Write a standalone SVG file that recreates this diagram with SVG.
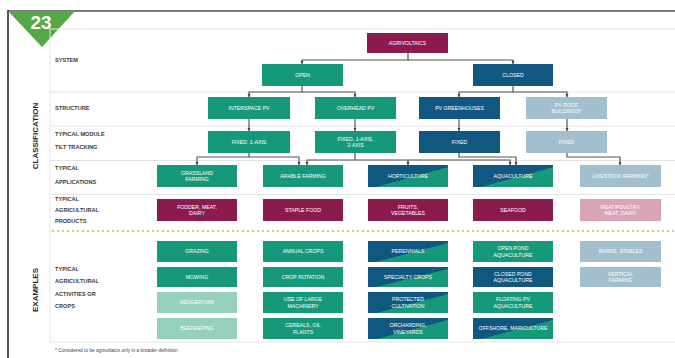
<svg xmlns="http://www.w3.org/2000/svg" width="675" height="358" viewBox="0 0 675 358">
<defs>
<style>
.bx{stroke:none}
.g{fill:#16997a}
.b{fill:#10587f}
.m{fill:#8b1b4e}
.lb{fill:#a3bfcd}
.lg{fill:#95d0bb}
.lp{fill:#d9a3b8}
.sp{fill:url(#split)}
.t{font-family:"Liberation Sans",Arial,sans-serif;font-size:5.2px;fill:#ffffff;text-anchor:middle}
.lbl{font-family:"Liberation Sans",Arial,sans-serif;font-size:5.6px;font-weight:bold;fill:#3a3a3a}
.sec{font-family:"Liberation Sans",Arial,sans-serif;font-size:8px;font-weight:bold;fill:#2a2a2a;text-anchor:middle}
.sep{stroke:#e4e4e4;stroke-width:1;fill:none}
.c{stroke:#555;stroke-width:1.2;fill:none;marker-end:url(#ah)}
</style>
<linearGradient id="split" x1="0" y1="0" x2="1" y2="1">
<stop offset="0" stop-color="#10587f"/>
<stop offset="0.55" stop-color="#10587f"/>
<stop offset="0.55" stop-color="#16997a"/>
<stop offset="1" stop-color="#16997a"/>
</linearGradient>
<marker id="ah" viewBox="0 0 4 4" refX="4" refY="2" markerWidth="3.5" markerHeight="3.5" markerUnits="userSpaceOnUse" orient="auto">
<path d="M0,0 L4,2 L0,4 z" fill="#444"/>
</marker>
</defs>
<rect x="0" y="0" width="675" height="358" fill="#ffffff"/>
<line x1="8" y1="11" x2="675" y2="11" stroke="#7a7a7a" stroke-width="2"/>
<line x1="8" y1="10" x2="8" y2="358" stroke="#222" stroke-width="1.5"/>
<g id="badge">
<polygon points="8,11 75,11 42,47" fill="#55a847"/>
<text x="41" y="29" font-family="Liberation Sans,Arial,sans-serif" font-size="19" font-weight="bold" fill="#fff" text-anchor="middle">23</text>
</g>
<g id="panel">
<line class="sep" x1="50" y1="29" x2="675" y2="29"/>
<line class="sep" x1="50" y1="92" x2="675" y2="92"/>
<line class="sep" x1="50" y1="126" x2="675" y2="126"/>
<line class="sep" x1="50" y1="160.5" x2="675" y2="160.5"/>
<line class="sep" x1="50" y1="194.5" x2="675" y2="194.5"/>
<line class="sep" x1="50" y1="29" x2="50" y2="342"/>
<line class="sep" x1="50" y1="342" x2="675" y2="342"/>
<line x1="52" y1="231" x2="675" y2="231" stroke="#c9b46a" stroke-width="1.3" stroke-dasharray="2,3"/>
</g>
<text class="sec" transform="translate(38,136) rotate(-90)">CLASSIFICATION</text>
<text class="sec" transform="translate(38,290) rotate(-90)">EXAMPLES</text>
<g id="rowlabels">
<text class="lbl" x="55" y="62">SYSTEM</text>
<text class="lbl" x="55" y="110">STRUCTURE</text>
<text class="lbl" x="55" y="136">TYPICAL MODULE</text>
<text class="lbl" x="55" y="149">TILT TRACKING</text>
<text class="lbl" x="55" y="170">TYPICAL</text>
<text class="lbl" x="55" y="184">APPLICATIONS</text>
<text class="lbl" x="55" y="201">TYPICAL</text>
<text class="lbl" x="55" y="212">AGRICULTURAL</text>
<text class="lbl" x="55" y="223">PRODUCTS</text>
<text class="lbl" x="55" y="271">TYPICAL</text>
<text class="lbl" x="55" y="283">AGRICULTURAL</text>
<text class="lbl" x="55" y="296">ACTIVITIES OR</text>
<text class="lbl" x="55" y="308">CROPS</text>
</g>
<g id="connectors">
<path class="c" d="M408,53 V60 H302 V64"/>
<path class="c" d="M408,60 H513 V64"/>
<path class="c" d="M302,86 V92 H249 V97"/>
<path class="c" d="M302,92 H355 V97"/>
<path class="c" d="M513,86 V92 H459 V97"/>
<path class="c" d="M513,92 H567 V97"/>
<path class="c" d="M249,119 V131"/>
<path class="c" d="M355,119 V131"/>
<path class="c" d="M459,119 V131"/>
<path class="c" d="M567,119 V131"/>
<path class="c" d="M249,153 V157 H197 V165"/>
<path class="c" d="M249,157 H299 V165"/>
<path class="c" d="M355,153 V160 H307 V165"/>
<path class="c" d="M355,160 H408 V165"/>
<path class="c" d="M408,160 H510 V165"/>
<path class="c" d="M459,153 V157 H516 V165"/>
<path class="c" d="M567,153 V157 H620 V165"/>
</g>
<g id="n-agrivoltaics"><rect class="bx m" x="367" y="33" width="81" height="20"/><text class="t" x="407.5" y="44.8">AGRIVOLTAICS</text></g>
<g id="n-open"><rect class="bx g" x="262" y="64" width="81" height="22"/><text class="t" x="302.5" y="76.8">OPEN</text></g>
<g id="n-closed"><rect class="bx b" x="473" y="64" width="80" height="22"/><text class="t" x="513" y="76.8">CLOSED</text></g>
<g id="n-interspace"><rect class="bx g" x="208" y="97" width="82" height="22"/><text class="t" x="249" y="109.8">INTERSPACE PV</text></g>
<g id="n-overhead"><rect class="bx g" x="315" y="97" width="81" height="22"/><text class="t" x="355.5" y="109.8">OVERHEAD PV</text></g>
<g id="n-greenhouses"><rect class="bx b" x="419" y="97" width="81" height="22"/><text class="t" x="459.5" y="109.8">PV GREENHOUSES</text></g>
<g id="n-buildings"><rect class="bx lb" x="526" y="97" width="81" height="22"/><text class="t" x="566.5" y="106.5">PV ROOF<tspan x="566.5" dy="6.5">BUILDINGS*</tspan></text></g>
<g id="n-track1"><rect class="bx g" x="208" y="131" width="82" height="22"/><text class="t" x="249" y="143.8">FIXED, 1-AXIS</text></g>
<g id="n-track2"><rect class="bx g" x="315" y="131" width="81" height="22"/><text class="t" x="355.5" y="140.5">FIXED, 1-AXIS,<tspan x="355.5" dy="6.5">2-AXIS</tspan></text></g>
<g id="n-track3"><rect class="bx b" x="419" y="131" width="81" height="22"/><text class="t" x="459.5" y="143.8">FIXED</text></g>
<g id="n-track4"><rect class="bx lb" x="526" y="131" width="81" height="22"/><text class="t" x="566.5" y="143.8">FIXED</text></g>
<g id="n-grassland"><rect class="bx g" x="157" y="165" width="80" height="22"/><text class="t" x="197" y="174.5">GRASSLAND<tspan x="197" dy="6.5">FARMING</tspan></text></g>
<g id="n-arable"><rect class="bx g" x="263" y="165" width="80" height="22"/><text class="t" x="303" y="177.8">ARABLE FARMING</text></g>
<g id="n-horticulture"><rect class="bx sp" x="368" y="165" width="80" height="22"/><text class="t" x="408" y="177.8">HORTICULTURE</text></g>
<g id="n-aquaculture"><rect class="bx sp" x="473" y="165" width="80" height="22"/><text class="t" x="513" y="177.8">AQUACULTURE</text></g>
<g id="n-livestock"><rect class="bx lb" x="580" y="165" width="81" height="22"/><text class="t" x="620.5" y="177.8">LIVESTOCK FARMING*</text></g>
<g id="n-fodder"><rect class="bx m" x="157" y="199" width="80" height="22"/><text class="t" x="197" y="208.5">FODDER, MEAT,<tspan x="197" dy="6.5">DAIRY</tspan></text></g>
<g id="n-staple"><rect class="bx m" x="263" y="199" width="80" height="22"/><text class="t" x="303" y="211.8">STAPLE FOOD</text></g>
<g id="n-fruits"><rect class="bx m" x="368" y="199" width="80" height="22"/><text class="t" x="408" y="208.5">FRUITS,<tspan x="408" dy="6.5">VEGETABLES</tspan></text></g>
<g id="n-seafood"><rect class="bx m" x="473" y="199" width="80" height="22"/><text class="t" x="513" y="211.8">SEAFOOD</text></g>
<g id="n-meat"><rect class="bx lp" x="580" y="199" width="81" height="22"/><text class="t" x="620.5" y="208.5">MEAT/POULTRY,<tspan x="620.5" dy="6.5">MEAT, DAIRY</tspan></text></g>
<g id="n-grazing"><rect class="bx g" x="157" y="241" width="80" height="21"/><text class="t" x="197" y="253.3">GRAZING</text></g>
<g id="n-mowing"><rect class="bx g" x="157" y="267" width="80" height="20"/><text class="t" x="197" y="278.8">MOWING</text></g>
<g id="n-hedgerows"><rect class="bx lg" x="157" y="292" width="80" height="21"/><text class="t" x="197" y="304.3">HEDGEROWS</text></g>
<g id="n-beekeeping"><rect class="bx lg" x="157" y="318" width="80" height="21"/><text class="t" x="197" y="330.3">BEEKEEPING</text></g>
<g id="n-annual"><rect class="bx g" x="263" y="241" width="80" height="21"/><text class="t" x="303" y="253.3">ANNUAL CROPS</text></g>
<g id="n-rotation"><rect class="bx g" x="263" y="267" width="80" height="20"/><text class="t" x="303" y="278.8">CROP ROTATION</text></g>
<g id="n-machinery"><rect class="bx g" x="263" y="292" width="80" height="21"/><text class="t" x="303" y="301">USE OF LARGE<tspan x="303" dy="6.5">MACHINERY</tspan></text></g>
<g id="n-cereals"><rect class="bx g" x="263" y="318" width="80" height="21"/><text class="t" x="303" y="327">CEREALS, OIL<tspan x="303" dy="6.5">PLANTS</tspan></text></g>
<g id="n-perennials"><rect class="bx sp" x="368" y="241" width="80" height="21"/><text class="t" x="408" y="253.3">PERENNIALS</text></g>
<g id="n-specialty"><rect class="bx sp" x="368" y="267" width="80" height="20"/><text class="t" x="408" y="278.8">SPECIALTY CROPS</text></g>
<g id="n-protected"><rect class="bx sp" x="368" y="292" width="80" height="21"/><text class="t" x="408" y="301">PROTECTED<tspan x="408" dy="6.5">CULTIVATION</tspan></text></g>
<g id="n-orcharding"><rect class="bx sp" x="368" y="318" width="80" height="21"/><text class="t" x="408" y="327">ORCHARDING,<tspan x="408" dy="6.5">VINEYARDS</tspan></text></g>
<g id="n-openpond"><rect class="bx g" x="473" y="241" width="80" height="21"/><text class="t" x="513" y="250">OPEN POND<tspan x="513" dy="6.5">AQUACULTURE</tspan></text></g>
<g id="n-closedpond"><rect class="bx b" x="473" y="267" width="80" height="20"/><text class="t" x="513" y="275.5">CLOSED POND<tspan x="513" dy="6.5">AQUACULTURE</tspan></text></g>
<g id="n-floating"><rect class="bx g" x="473" y="292" width="80" height="21"/><text class="t" x="513" y="301">FLOATING PV<tspan x="513" dy="6.5">AQUACULTURE</tspan></text></g>
<g id="n-offshore"><rect class="bx sp" x="473" y="318" width="80" height="21"/><text class="t" x="513" y="330.3">OFFSHORE, MARICULTURE</text></g>
<g id="n-barns"><rect class="bx lb" x="580" y="241" width="81" height="21"/><text class="t" x="620.5" y="253.3">BARNS, STABLES</text></g>
<g id="n-vertical"><rect class="bx lb" x="580" y="267" width="81" height="20"/><text class="t" x="620.5" y="275.5">VERTICAL<tspan x="620.5" dy="6.5">FARMING</tspan></text></g>
<text x="55" y="352" font-family="Liberation Sans,Arial,sans-serif" font-size="4.8" fill="#444">* Considered to be agrivoltaics only in a broader definition</text>
</svg>
